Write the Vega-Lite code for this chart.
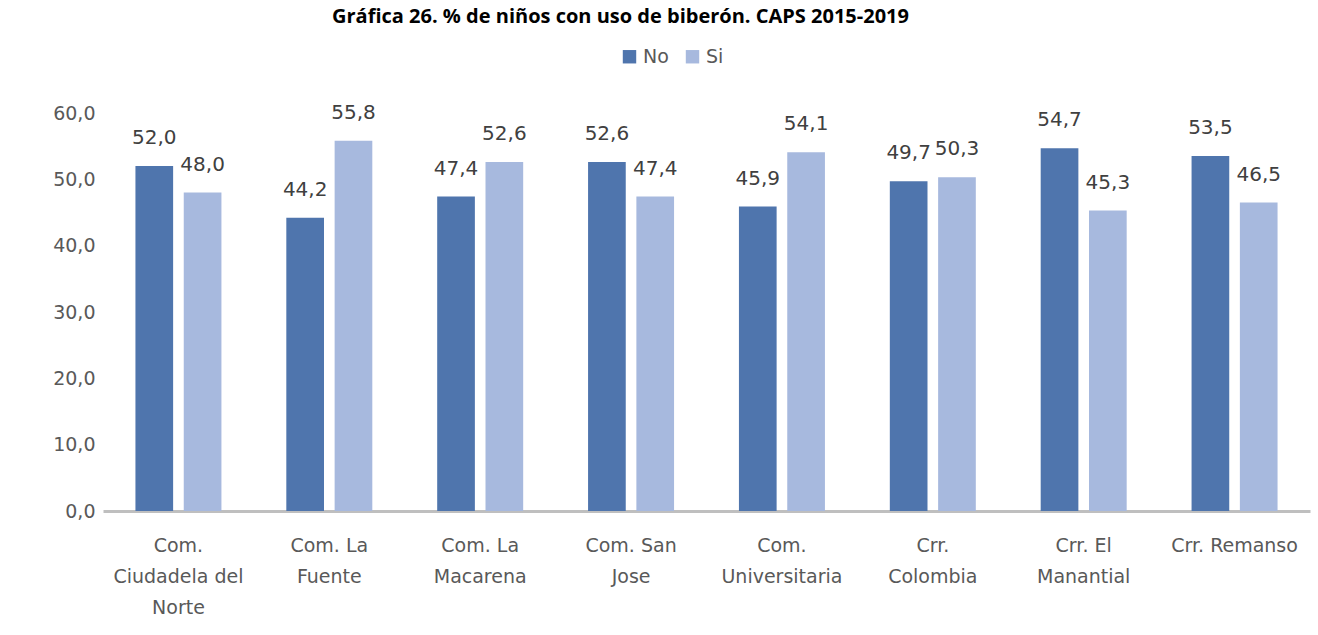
{
  "$schema": "https://vega.github.io/schema/vega-lite/v6.json",
  "width": 1207,
  "height": 398,
  "autosize": {"type": "none"},
  "padding": {"left": 103, "top": 113, "right": 8, "bottom": 124},
  "background": "white",
  "config": {
    "view": {"stroke": null},
    "font": "DejaVu Sans",
    "locale": {"number": {"decimal": ",", "thousands": ".", "grouping": [3], "currency": ["", "€"]}}
  },
  "title": {
    "text": "Gráfica 26. % de niños con uso de biberón. CAPS 2015-2019",
    "fontSize": 20,
    "fontWeight": "bold",
    "font": "Open Sans",
    "color": "#000000",
    "anchor": "middle",
    "frame": "group",
    "dx": -86,
    "offset": 20
  },
  "data": {
    "values": [
      {"lugar": "Com. Ciudadela del Norte", "uso": "No", "pct": 52.0},
      {"lugar": "Com. Ciudadela del Norte", "uso": "Si", "pct": 48.0},
      {"lugar": "Com. La Fuente", "uso": "No", "pct": 44.2},
      {"lugar": "Com. La Fuente", "uso": "Si", "pct": 55.8},
      {"lugar": "Com. La Macarena", "uso": "No", "pct": 47.4},
      {"lugar": "Com. La Macarena", "uso": "Si", "pct": 52.6},
      {"lugar": "Com. San Jose", "uso": "No", "pct": 52.6},
      {"lugar": "Com. San Jose", "uso": "Si", "pct": 47.4},
      {"lugar": "Com. Universitaria", "uso": "No", "pct": 45.9},
      {"lugar": "Com. Universitaria", "uso": "Si", "pct": 54.1},
      {"lugar": "Crr. Colombia", "uso": "No", "pct": 49.7},
      {"lugar": "Crr. Colombia", "uso": "Si", "pct": 50.3},
      {"lugar": "Crr. El Manantial", "uso": "No", "pct": 54.7},
      {"lugar": "Crr. El Manantial", "uso": "Si", "pct": 45.3},
      {"lugar": "Crr. Remanso", "uso": "No", "pct": 53.5},
      {"lugar": "Crr. Remanso", "uso": "Si", "pct": 46.5}
    ]
  },
  "encoding": {
    "x": {
      "field": "lugar",
      "type": "nominal",
      "sort": null,
      "scale": {"paddingInner": 0.43, "paddingOuter": 0.215},
      "axis": {
        "title": null,
        "labelAngle": 0,
        "ticks": false,
        "domainColor": "#bfbfbf",
        "domainWidth": 3,
        "labelFontSize": 19,
        "labelColor": "#595959",
        "labelPadding": 25,
        "labelLineHeight": 31,
        "labelBaseline": "top",
        "labelExpr": "datum.value == 'Com. Ciudadela del Norte' ? ['Com.', 'Ciudadela del', 'Norte'] : datum.value == 'Com. La Fuente' ? ['Com. La', 'Fuente'] : datum.value == 'Com. La Macarena' ? ['Com. La', 'Macarena'] : datum.value == 'Com. San Jose' ? ['Com. San', 'Jose'] : datum.value == 'Com. Universitaria' ? ['Com.', 'Universitaria'] : datum.value == 'Crr. Colombia' ? ['Crr.', 'Colombia'] : datum.value == 'Crr. El Manantial' ? ['Crr. El', 'Manantial'] : datum.value"
      }
    },
    "xOffset": {"field": "uso", "type": "nominal", "scale": {"paddingInner": 0.22}},
    "y": {
      "field": "pct",
      "type": "quantitative",
      "scale": {"domain": [0, 60]},
      "axis": {
        "title": null,
        "values": [0, 10, 20, 30, 40, 50, 60],
        "format": ".1f",
        "grid": false,
        "ticks": false,
        "domain": false,
        "labelFontSize": 19,
        "labelColor": "#595959",
        "labelPadding": 8
      }
    }
  },
  "layer": [
    {
      "mark": {"type": "bar"},
      "encoding": {
        "color": {
          "field": "uso",
          "type": "nominal",
          "scale": {"domain": ["No", "Si"], "range": ["#4f75ad", "#a7b9de"]},
          "legend": {
            "title": null,
            "orient": "none",
            "legendX": 517,
            "legendY": -66,
            "direction": "horizontal",
            "symbolType": "square",
            "symbolSize": 180,
            "labelFontSize": 19,
            "labelColor": "#595959",
            "columnPadding": 14,
            "labelOffset": 4
          }
        }
      }
    },
    {
      "mark": {"type": "text", "baseline": "bottom", "dy": -18, "fontSize": 20, "color": "#404040"},
      "encoding": {
        "text": {"field": "pct", "type": "quantitative", "format": ".1f"}
      }
    }
  ]
}
